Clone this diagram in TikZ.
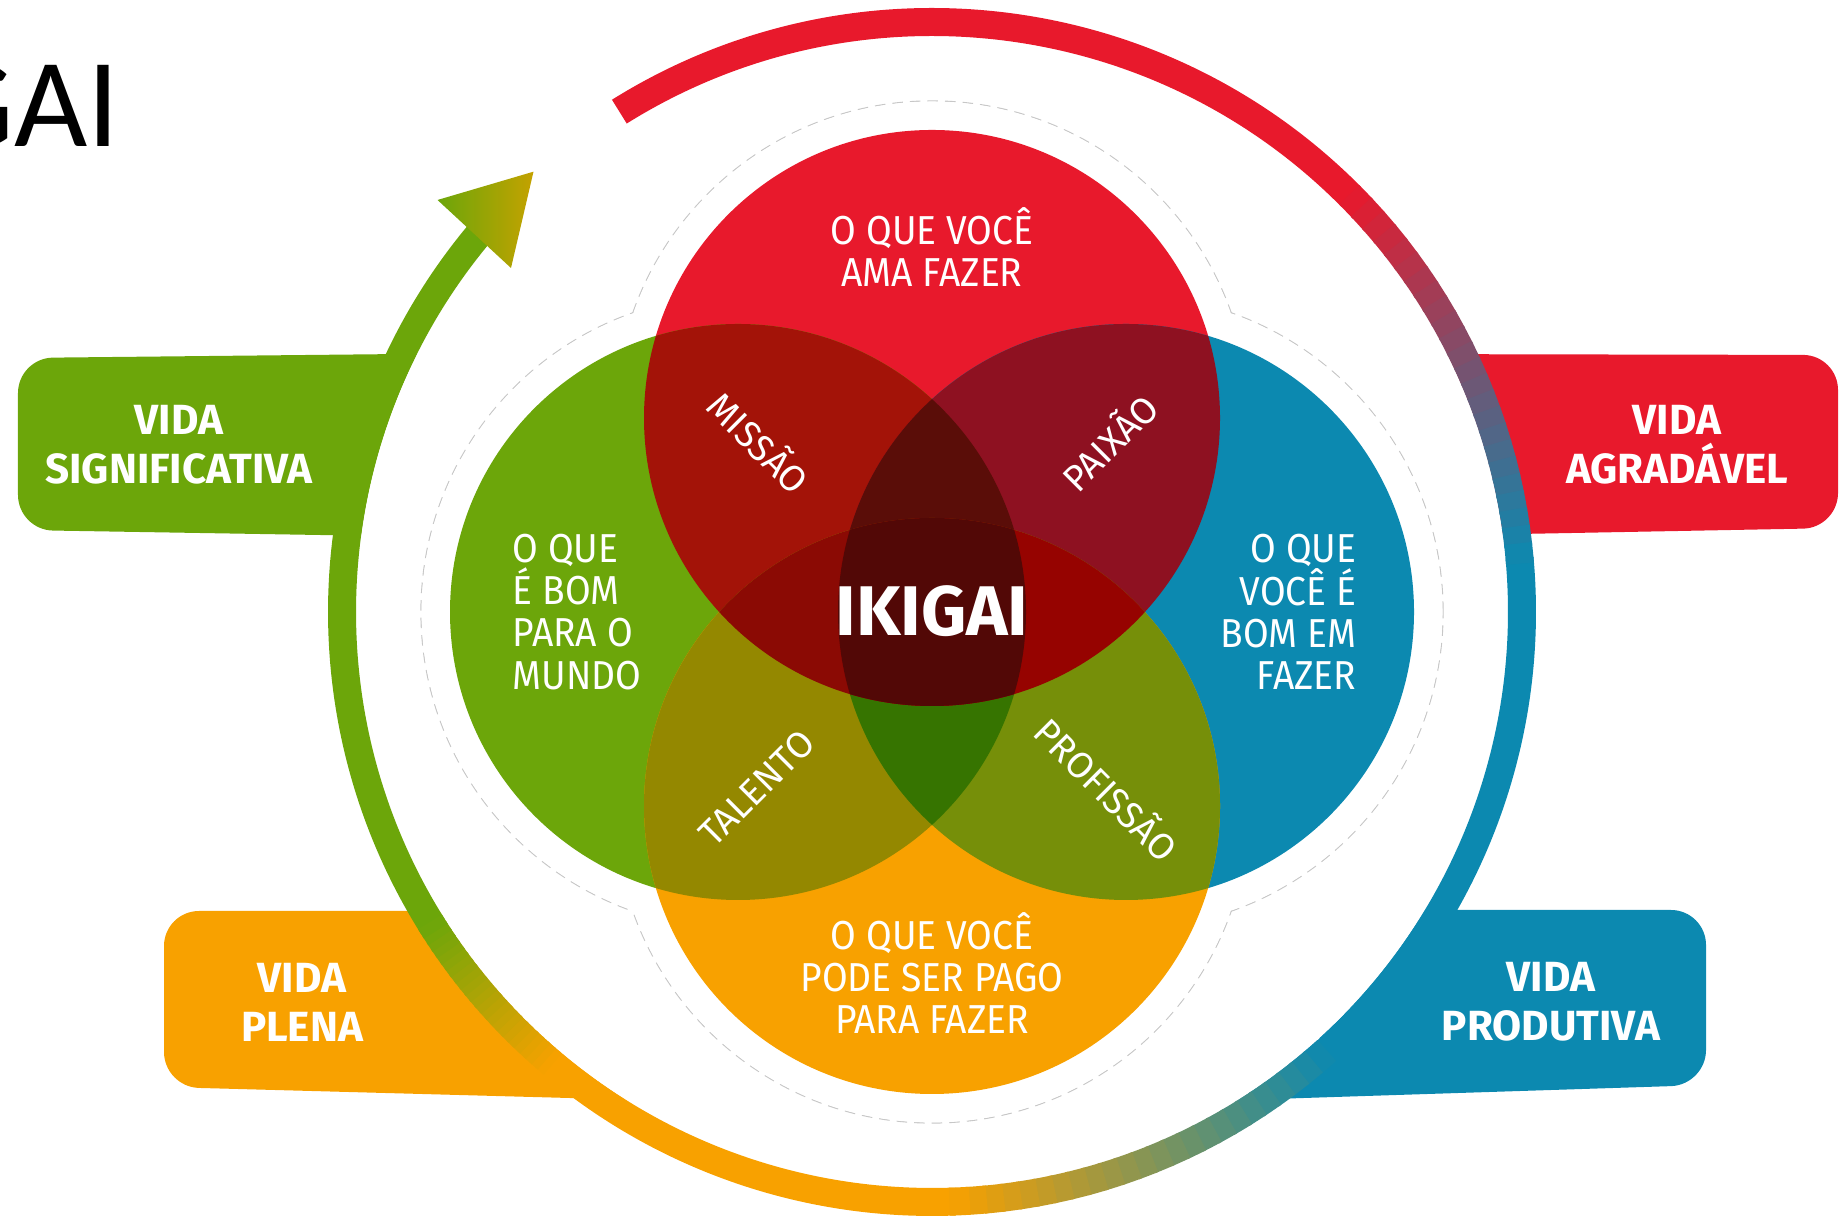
\documentclass[tikz,border=0pt]{standalone}
\usepackage{fontspec}
\setmainfont{Fira Sans}
\newfontfamily\titlefont{Carlito}
\newfontfamily\vennfont[FakeStretch=0.92]{Fira Sans}
\definecolor{ikred}{HTML}{E8192C}
\definecolor{ikgreen}{HTML}{6CA60A}
\definecolor{ikblue}{HTML}{0C89B0}
\definecolor{ikorange}{HTML}{F8A100}
\definecolor{ikgold}{HTML}{C4A200}
\definecolor{vMissao}{HTML}{A31308}
\definecolor{vPaixao}{HTML}{8E1121}
\definecolor{vTalento}{HTML}{948800}
\definecolor{vProfissao}{HTML}{768F09}
\definecolor{vTopLens}{HTML}{5A0D08}
\definecolor{vBotLens}{HTML}{367400}
\definecolor{vLeftLens}{HTML}{8B0A04}
\definecolor{vRightLens}{HTML}{960300}
\definecolor{vCentre}{HTML}{520806}
\begin{document}
\begin{tikzpicture}[
    ringline/.style={line width=0.28cm},
    haloline/.style={draw=black!22, densely dashed, line width=0.35pt},
    tabshape/.style={rounded corners=0.35cm},
    venntxt/.style={text=white, inner sep=0pt, font=\vennfont\fontsize{11.5}{12}\selectfont},
    diagtxt/.style={text=white, inner sep=0pt, font=\fontsize{10.5}{12}\selectfont},
    lifetxt/.style={text=white, inner sep=0pt, align=center, font=\bfseries\fontsize{12}{14}\selectfont}
  ]
  \useasboundingbox (0,0) rectangle (18.42,12.16);

  \coordinate (ctr) at (9.32,6.04);
  \coordinate (cT) at (9.32,7.98);
  \coordinate (cL) at (7.38,6.04);
  \coordinate (cR) at (11.26,6.04);
  \coordinate (cB) at (9.32,4.10);

  % slide title, cut at the left edge
  \begin{scope}
    \clip (0,0) rectangle (18.42,12.16);
    \node[anchor=base east, inner sep=0pt, font=\titlefont\fontsize{36}{42}\selectfont] (title) at (1.20,10.69) {IKIGAI};
  \end{scope}

  % tabs behind the ring
  \fill[ikgreen, tabshape] (5.0,8.63) -- (0.18,8.58) -- (0.18,6.86) -- (5.0,6.78) -- cycle;
  \fill[ikred, tabshape] (13.6,8.62) -- (18.38,8.61) -- (18.38,6.88) -- (13.6,6.79) -- cycle;
  \fill[ikorange, tabshape] (6.8,3.05) -- (1.64,3.05) -- (1.64,1.29) -- (6.8,1.15) -- cycle;
  \fill[ikblue, tabshape] (11.8,3.06) -- (17.06,3.06) -- (17.06,1.31) -- (11.8,1.14) -- cycle;

  \fill[white] (ctr) circle[radius=5.76];

  % ring
  \draw[ringline, ikred] ([shift={(122:5.9)}]ctr) arc[start angle=122, end angle=44.7, radius=5.9];
  \draw[ringline, ikblue] ([shift={(5.3:5.9)}]ctr) arc[start angle=5.3, end angle=-47.7, radius=5.9];
  \draw[ringline, ikorange] ([shift={(-87.7:5.9)}]ctr) arc[start angle=-87.7, end angle=-130.3, radius=5.9];
  \draw[ringline, ikgreen] ([shift={(212.3:5.9)}]ctr) arc[start angle=212.3, end angle=139, radius=5.9];
  \foreach \aS/\aE/\cA/\cB in {45/5/ikred/ikblue, -48/-88/ikblue/ikorange, 230/212/ikorange/ikgreen}{
    \foreach \k in {0,...,23}{
      \pgfmathsetmacro{\pA}{\aS+((\aE)-(\aS))*\k/24}
      \pgfmathsetmacro{\pB}{\aS+((\aE)-(\aS))*(\k+1)/24-0.3}
      \pgfmathsetmacro{\mixp}{100-(\k+0.5)*100/24}
      \draw[ringline, draw=\cA!\mixp!\cB] ([shift={(\pA:5.9)}]ctr) arc[start angle=\pA, end angle=\pB, radius=5.9];
    }
  }
  \shade[left color=ikgreen, right color=ikgold] (5.335,10.443) -- (4.375,10.16) -- (5.11,9.48) -- cycle;

  % white halo round the circles
  \draw[haloline] (cT) circle[radius=3.17];
  \draw[haloline] (cL) circle[radius=3.17];
  \draw[haloline] (cR) circle[radius=3.17];
  \draw[haloline] (cB) circle[radius=3.17];
  \fill[white] (cT) circle[radius=3.165];
  \fill[white] (cL) circle[radius=3.165];
  \fill[white] (cR) circle[radius=3.165];
  \fill[white] (cB) circle[radius=3.165];

  % circles and their overlaps
  \fill[ikred] (cT) circle[radius=2.88];
  \fill[ikgreen] (cL) circle[radius=2.88];
  \fill[ikblue] (cR) circle[radius=2.88];
  \fill[ikorange] (cB) circle[radius=2.88];
  \begin{scope}
    \clip (cT) circle[radius=2.88];
    \fill[vMissao] (cL) circle[radius=2.88];
    \fill[vPaixao] (cR) circle[radius=2.88];
  \end{scope}
  \begin{scope}
    \clip (cB) circle[radius=2.88];
    \fill[vTalento] (cL) circle[radius=2.88];
    \fill[vProfissao] (cR) circle[radius=2.88];
  \end{scope}
  \begin{scope}
    \clip (cL) circle[radius=2.88];
    \clip (cR) circle[radius=2.88];
    \fill[vTopLens] (cT) circle[radius=2.88];
    \fill[vBotLens] (cB) circle[radius=2.88];
  \end{scope}
  \begin{scope}
    \clip (cT) circle[radius=2.88];
    \clip (cB) circle[radius=2.88];
    \fill[vLeftLens] (cL) circle[radius=2.88];
    \fill[vRightLens] (cR) circle[radius=2.88];
  \end{scope}
  \begin{scope}
    \clip (cT) circle[radius=2.88];
    \clip (cB) circle[radius=2.88];
    \clip (cL) circle[radius=2.88];
    \fill[vCentre] (cR) circle[radius=2.88];
  \end{scope}

  % texts
  \node[venntxt, align=center] (love) at (9.32,9.69) {O QUE VOCÊ\\AMA FAZER};
  \node[venntxt, align=left, anchor=west] (world) at (5.12,6.04) {O QUE\\É BOM\\PARA O\\MUNDO};
  \node[venntxt, align=right, anchor=east] (good) at (13.57,6.04) {O QUE\\VOCÊ É\\BOM EM\\FAZER};
  \node[venntxt, align=center] (paid) at (9.32,2.43) {O QUE VOCÊ\\PODE SER PAGO\\PARA FAZER};
  \node[text=white, inner sep=0pt, font=\bfseries\fontsize{20}{24}\selectfont] (ikigai) at (9.32,6.05) {IKIGAI};
  \node[diagtxt, rotate=-45] (missao) at (7.60,7.75) {MISSÃO};
  \node[diagtxt, rotate=45] (paixao) at (11.08,7.75) {PAIXÃO};
  \node[diagtxt, rotate=45] (talento) at (7.57,4.28) {TALENTO};
  \node[diagtxt, rotate=-45] (profissao) at (11.08,4.28) {PROFISSÃO};
  \node[lifetxt] (signif) at (1.79,7.71) {VIDA\\SIGNIFICATIVA};
  \node[lifetxt] (agrad) at (16.77,7.71) {VIDA\\AGRADÁVEL};
  \node[lifetxt] (plena) at (3.02,2.14) {VIDA\\PLENA};
  \node[lifetxt] (produt) at (15.51,2.14) {VIDA\\PRODUTIVA};
\end{tikzpicture}
\end{document}
